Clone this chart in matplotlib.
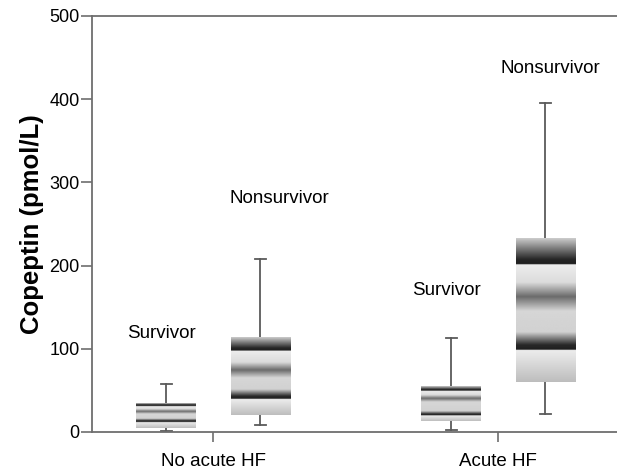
import numpy as np
import matplotlib.pyplot as plt

plt.rcParams['font.family'] = ['Liberation Sans', 'DejaVu Sans']

groups = ["No acute HF", "Acute HF"]
subgroups = ["Survivor", "Nonsurvivor"]

# per box: G1 surv, G1 nonsurv, G2 surv, G2 nonsurv
whisker_lo = [1.6, 8.0, 2.4, 21.6]
box_bottom = [4.4, 20.4, 13.2, 60.0]
q1_line = [13.2, 43.0, 21.6, 104.6]
median = [24.4, 74.5, 40.4, 162.6]
q3_line = [32.4, 101.0, 51.2, 207.5]
box_top = [34.4, 114.0, 55.2, 233.0]
whisker_hi = [58.0, 208.0, 112.6, 396.0]

# caption positions ("Survivor"/"Nonsurvivor")
label_x = [-0.181, 0.23, 0.819, 1.181]
label_y = [118, 281, 170, 437]

offset = 0.165
width = 0.21
cap = 0.018
line_col = "#5a5a5a"


def shade(bot, q1, med, q3, top):
    h = top - bot
    b = max(0.035 * h, 1.6)
    g = max(0.09 * h, 2.0)
    w = max(0.1 * h, 2.5)
    pts = [
        (bot, 0.74),
        (q1 - b, 0.93),
        (q1 - b + 0.05, 0.12),
        (q1, 0.16),
        (q1 + g, 0.82),
        (med - w, 0.84),
        (med, 0.42),
        (med + w, 0.86),
        (q3 - b, 0.93),
        (q3 - b + 0.05, 0.12),
        (q3, 0.15),
        (top, 0.8),
    ]
    xp = [p[0] for p in pts]
    fp = [p[1] for p in pts]
    ys = np.linspace(bot, top, 500)
    return np.interp(ys, xp, fp)


fig = plt.figure(figsize=(6.17, 4.70), dpi=100)
ax = fig.add_axes([92 / 617, 1 - 432 / 470, 1 - 92 / 617, (432 - 16) / 470])

for i in range(4):
    x = (i // 2) + (-offset if i % 2 == 0 else offset)
    ax.plot([x, x], [box_top[i], whisker_hi[i]], color=line_col, lw=1.3, zorder=1)
    ax.plot([x, x], [whisker_lo[i], box_bottom[i]], color=line_col, lw=1.3, zorder=1)
    ax.plot([x - cap, x + cap], [whisker_hi[i]] * 2, color=line_col, lw=1.3, zorder=1)
    ax.plot([x - cap, x + cap], [whisker_lo[i]] * 2, color=line_col, lw=1.3, zorder=1)
    prof = shade(box_bottom[i], q1_line[i], median[i], q3_line[i], box_top[i])
    ax.imshow(prof[::-1, None], cmap="gray", vmin=0, vmax=1, aspect="auto",
              interpolation="bilinear",
              extent=[x - width / 2, x + width / 2, box_bottom[i], box_top[i]],
              zorder=2)
    ax.text(label_x[i], label_y[i], subgroups[i % 2],
            ha="center", va="center", fontsize=13.5)

ax.set_xlim(-0.426, 1.416)
ax.set_ylim(0, 500)
ax.set_aspect("auto")
ax.set_xticks([0, 1])
ax.set_xticklabels(groups, fontsize=13.5)
ax.set_yticks([0, 100, 200, 300, 400, 500])
ax.tick_params(axis="y", labelsize=13, length=8, width=1.2, color="#6e6e6e", pad=1)
ax.tick_params(axis="x", length=7, width=1.2, color="#6e6e6e", pad=8)
ax.set_ylabel("Copeptin (pmol/L)", fontsize=18.5, fontweight="bold", labelpad=4)

for s in ["left", "bottom", "top"]:
    ax.spines[s].set_color("#6e6e6e")
    ax.spines[s].set_linewidth(1.3)
ax.spines["right"].set_visible(False)

fig.savefig("out.png", dpi=100)
